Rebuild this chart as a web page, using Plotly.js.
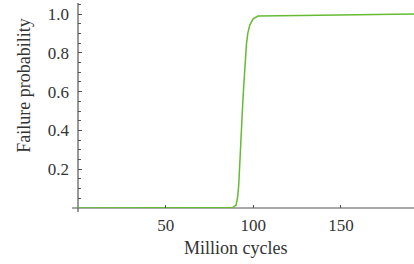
<!DOCTYPE html>
<html>
<head>
<meta charset="utf-8">
<script src="https://cdn.plot.ly/plotly-3.0.1.min.js"></script>
<style>html,body{margin:0;padding:0;background:#fff;}#chart{width:414px;height:264px;}</style>
</head>
<body>
<div id="chart"></div>
<script>
const cycles = [0, 20, 40, 60, 80, 86.4, 88.3, 90.2, 91.1, 91.7, 92.3, 92.9, 93.4, 94.0, 94.6, 95.1, 95.7, 96.1, 96.9, 98.0, 99.9, 102.7, 126.6, 150, 191.7];
const probability = [0, 0, 0, 0, 0, 0, 0.003, 0.015, 0.057, 0.119, 0.247, 0.376, 0.454, 0.541, 0.634, 0.722, 0.804, 0.845, 0.902, 0.943, 0.975, 0.99, 0.993, 0.995, 1.0];
const xTickVals = [50, 100, 150];
const xTickText = ['50', '100', '150'];
const yTickVals = [0.2, 0.4, 0.6, 0.8, 1.0];
const yTickText = ['0.2', '0.4', '0.6', '0.8', '1.0'];

const font = 'Liberation Serif, Times New Roman, serif';
const axisColor = '#555555';
const textColor = '#333333';

const trace = {
  x: cycles, y: probability, type: 'scatter', mode: 'lines',
  line: {color: '#66bb33', width: 1.5}, hoverinfo: 'skip'
};

const layout = {
  width: 414, height: 264,
  margin: {l: 78, r: 0, t: 3, b: 56, pad: 0},
  paper_bgcolor: '#ffffff', plot_bgcolor: '#ffffff',
  showlegend: false,
  font: {family: font, size: 17, color: textColor},
  xaxis: {
    range: [0, 191.7], showgrid: false, zeroline: false, showline: false,
    tickmode: 'array', tickvals: xTickVals, ticktext: xTickText,
    ticks: 'inside', ticklen: 3, tickwidth: 1, tickcolor: axisColor,
    ticklabelstandoff: 5,
    tickfont: {family: font, size: 17, color: textColor}
  },
  yaxis: {
    range: [0, 1.057], showgrid: false, zeroline: false, showline: false,
    tickmode: 'array', tickvals: yTickVals, ticktext: yTickText,
    ticks: 'inside', ticklen: 4, tickwidth: 1, tickcolor: axisColor,
    ticklabelstandoff: 8,
    tickfont: {family: font, size: 17, color: textColor},
    minor: {dtick: 0.05, ticks: 'inside', ticklen: 3, tickwidth: 1, tickcolor: axisColor, showgrid: false}
  },
  shapes: [
    {type: 'line', xref: 'paper', yref: 'paper', x0: -0.018, x1: 1, y0: 0, y1: 0,
     line: {color: axisColor, width: 1.2}, layer: 'below'},
    {type: 'line', xref: 'paper', yref: 'paper', x0: 0, x1: 0, y0: -0.02, y1: 1,
     line: {color: axisColor, width: 1.2}, layer: 'below'}
  ],
  annotations: [
    {text: 'Million cycles', xref: 'paper', yref: 'paper', x: 0.47, y: -0.195,
     xanchor: 'center', yanchor: 'middle', showarrow: false,
     font: {family: font, size: 18, color: textColor}},
    {text: 'Failure probability', xref: 'paper', yref: 'paper', x: -0.16, y: 0.598,
     xanchor: 'center', yanchor: 'middle', textangle: -90, showarrow: false,
     font: {family: font, size: 18, color: textColor}}
  ]
};

Plotly.newPlot('chart', [trace], layout, {displayModeBar: false, staticPlot: true});
</script>
</body>
</html>
